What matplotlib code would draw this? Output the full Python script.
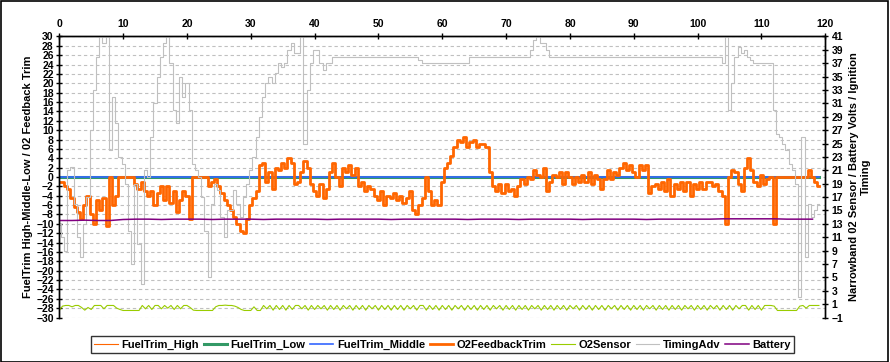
import numpy as np
import matplotlib
matplotlib.use("Agg")
import matplotlib.pyplot as plt
from matplotlib.patches import Rectangle

plt.rcParams['font.family'] = ['Liberation Sans', 'DejaVu Sans']
plt.rcParams['font.weight'] = 'bold'

# time step of the logged samples (seconds)
step = 0.5

# O2FeedbackTrim, left axis (%)
o2_trim = [
    -1, -1, -2, -2.5, -4.5, -6.5, -7.5, -9, -6, -4,
    -8, -10, -5, -7, -4.5, -10.5, 0, -6, -4, 0,
    0, 0, 0, 0, -1.5, -2.5, -1, -3, -4, -3,
    -6, -3.5, -2, -5, -2, -5.5, -3, -7.5, -5, -3,
    -4, -9, 0, 0, 0, 0, 0, -2, -1, -0.5,
    -2, -3.5, -5, -6, -7, -8.5, -10, -11.5, -12, -9,
    -6, -4.5, -3, 2.5, 3, -1, 1, -2.5, 2, 1.5,
    3, 2, 4, 3, -1.5, -1, 1, 3.5, 2, -1.5,
    -3, -4, -1.5, -4.5, -2.5, 1, 3, 0, -2, 2,
    1, 2.5, 0.5, 2, -2, -1, -3, -2, -2.5, -4,
    -5, -3, -6, -4, -4.5, -3.5, -5, -4, -5.5, -4.5,
    -3, -7, -8, -6, -4.5, 0, -3, -6, -5, -6,
    -1, 2, 3, 4.5, 6.5, 8, 7.5, 8.5, 6.5, 7.5,
    8, 6.5, 7, 7, 6.5, 1, -2, -3, -1.5, -3.5,
    -1.5, -3, -2.5, -4, -2, -0.5, -1.5, 0, -0.5, 1.5,
    0.5, 0, 2, -3, -1, 0.5, 0, 1, -1.5, 1,
    0, -1.5, 0, -1, 0.5, -1, 1, -1.5, 0.5, -0.5,
    -2.5, -0.5, 1.5, -0.5, 1, 0.5, 2, 3, 1.5, 2.5,
    1, 0, 2.5, 1.5, 2.5, -3.5, -2, -1.5, -2.5, -1,
    -3, -0.5, -4, -1.5, -2.5, -1, -3, -1, -4, -1.5,
    -2.5, -1, -2.5, -1, -1, -2, -1.5, -3, -4, -10,
    0, 1.5, 1, -1.5, -3, 2, 4, 1.5, -1, -2,
    0.5, -1.5, -0.5, 0, -10, 0, 0, 0, 0, 0,
    0, 0, 0, 0, 0, 1.5, 0, -1, -2,
]

# TimingAdv, right axis (degrees)
timing_adv = [
    13, 11, 9, 21, 21.5, 16, 11, 8, 13, 17,
    27, 33, 38, 41, 40, 41, 24, 32, 28, 23,
    22, 19, 12, 7, 19, 10, 4, 21, 20, 26,
    31, 35, 38, 40, 41, 37, 30, 28, 35, 32,
    34, 30, 22, 21, 20, 17, 12, 5, 16, 19,
    18, 14, 11, 15, 15, 18, 16, 14, 17, 19,
    21, 23, 26, 29, 32, 34, 35, 34, 35.5, 37,
    36.5, 37, 39, 40, 38.5, 38.5, 41, 25, 33, 37,
    39, 39, 37, 36, 37, 37, 38, 38, 38, 38,
    38, 38, 38, 38, 38, 38, 38, 38, 38, 38,
    38, 38, 38, 38, 38, 38, 38, 38, 38, 38,
    38, 38, 38, 37.5, 37, 37, 37, 37, 37, 37,
    37, 37, 37, 37, 37, 37, 37, 37, 37, 38,
    38, 38, 38, 38, 38, 38, 38, 38, 38, 38,
    38, 38, 38, 38, 38, 38, 38, 38, 39, 40.5,
    41, 40, 40, 39, 38, 38, 38, 38, 38, 38,
    38, 38, 38, 38, 38, 38, 38, 38, 38, 38,
    38, 38, 38, 38, 38, 38, 38, 38, 38, 38,
    38, 38, 38, 38, 38, 38, 38, 38, 38, 38,
    38, 38, 38, 38, 38, 38, 38, 38, 38, 38,
    38, 38, 38, 38, 38, 38, 38, 38, 37, 41,
    30, 34, 38, 39.5, 38.5, 39, 38, 37.5, 37, 37,
    37, 37, 37, 37, 30, 26.5, 26, 25, 24, 22,
    21, 19, 2, 26, 8, 16, 14, 15, 16,
]

# O2Sensor, right axis (volts)
o2_sensor = [
    0.05, 0.7, 0.8, 0.8, 0.6, 0.8, 0.8, 0.5, 0.1, 0.5,
    0.2, 0.8, 0.8, 0.8, 0.3, 0.8, 0.8, 0.8, 0.4, 0.2,
    0.05, 0.05, 0.05, 0.05, 0.05, 0.05, 0.8, 0.3, 0.8, 0.2,
    0.8, 0.8, 0.3, 0.8, 0.4, 0.8, 0.2, 0.8, 0.3, 0.8,
    0.8, 0.5, 0.1, 0.05, 0.05, 0.05, 0.05, 0.05, 0.05, 0.6,
    0.8, 0.8, 0.85, 0.8, 0.8, 0.7, 0.5, 0.2, 0.05, 0.05,
    0.05, 0.6, 0.05, 0.05, 0.8, 0.3, 0.8, 0.1, 0.8, 0.2,
    0.8, 0.1, 0.8, 0.2, 0.8, 0.8, 0.3, 0.8, 0.1, 0.8,
    0.2, 0.8, 0.3, 0.8, 0.1, 0.8, 0.2, 0.8, 0.1, 0.8,
    0.3, 0.8, 0.1, 0.8, 0.2, 0.8, 0.1, 0.8, 0.3, 0.8,
    0.1, 0.8, 0.2, 0.8, 0.1, 0.8, 0.2, 0.8, 0.1, 0.8,
    0.3, 0.8, 0.1, 0.8, 0.8, 0.1, 0.8, 0.2, 0.8, 0.1,
    0.8, 0.2, 0.8, 0.1, 0.8, 0.3, 0.8, 0.1, 0.8, 0.2,
    0.8, 0.1, 0.8, 0.2, 0.8, 0.1, 0.8, 0.3, 0.8, 0.1,
    0.8, 0.2, 0.8, 0.1, 0.8, 0.2, 0.8, 0.1, 0.8, 0.3,
    0.8, 0.1, 0.8, 0.2, 0.8, 0.1, 0.8, 0.2, 0.8, 0.1,
    0.8, 0.3, 0.8, 0.1, 0.8, 0.2, 0.8, 0.1, 0.8, 0.2,
    0.8, 0.1, 0.8, 0.3, 0.8, 0.1, 0.8, 0.2, 0.8, 0.1,
    0.8, 0.2, 0.8, 0.1, 0.8, 0.3, 0.8, 0.1, 0.8, 0.2,
    0.8, 0.1, 0.8, 0.2, 0.8, 0.1, 0.8, 0.3, 0.8, 0.1,
    0.8, 0.2, 0.8, 0.1, 0.8, 0.3, 0.8, 0.1, 0.8, 0.2,
    0.8, 0.1, 0.8, 0.3, 0.8, 0.8, 0.1, 0.8, 0.2, 0.8,
    0.1, 0.8, 0.8, 0.8, 0.7, 0.05, 0.05, 0.05, 0.05, 0.05,
    0.05, 0.05, 0.7, 0.8, 0.4, 0.8, 0.8, 0.8, 0.8,
]

# Battery, right axis (volts), one reading every 2 s
batt_step = 2
battery = [
    13.5, 13.5, 13.55, 13.5, 13.5, 13.65, 13.7, 13.7, 13.65, 13.7,
    13.7, 13.7, 13.65, 13.7, 13.7, 13.7, 13.65, 13.7, 13.7, 13.7,
    13.7, 13.65, 13.7, 13.7, 13.7, 13.7, 13.65, 13.7, 13.7, 13.7,
    13.7, 13.7, 13.65, 13.7, 13.7, 13.7, 13.65, 13.7, 13.7, 13.7,
    13.7, 13.65, 13.7, 13.7, 13.7, 13.7, 13.65, 13.7, 13.7, 13.7,
    13.7, 13.7, 13.75, 13.75, 13.75, 13.75, 13.75, 13.7, 13.7, 13.7,
]

# the three fuel trims stay at zero for the whole log
fuel_trim_high = [0, 0]
fuel_trim_low = [0, 0]
fuel_trim_middle = [0, 0]
trim_t = [0, 119]

t = np.arange(len(o2_trim)) * step
t_batt = np.arange(len(battery)) * batt_step

fig = plt.figure(figsize=(8.9, 3.62), dpi=100)
ax = fig.add_axes([0.0666, 0.1229, 0.8607, 0.7763])
ax2 = ax.twinx()

ax.plot(trim_t, fuel_trim_high, color='#ff6600', lw=0.8, label='FuelTrim_High')
ax.plot(trim_t, fuel_trim_low, color='#339966', lw=2.2, label='FuelTrim_Low')
ax.plot(trim_t, fuel_trim_middle, color='#3366ff', lw=1.2, label='FuelTrim_Middle')
ax.plot(t, o2_trim, color='#ff6600', lw=2.0, drawstyle='steps-mid', label='O2FeedbackTrim')

ax2.plot(t, o2_sensor, color='#99cc00', lw=0.8, label='O2Sensor')
ax2.plot(t, timing_adv, color='#c0c0c0', lw=0.8, drawstyle='steps-mid', label='TimingAdv')
ax2.plot(t_batt, battery, color='#800080', lw=1.1, label='Battery')

ax.set_xlim(0, 120)
ax.set_ylim(-30, 30)
ax2.set_ylim(-1, 41)
ax.set_xticks(range(0, 121, 10))
ax.set_yticks(range(-30, 31, 2))
ax2.set_yticks(range(-1, 42, 2))

ax.xaxis.tick_top()
ax.yaxis.grid(True, color='#c0c0c0', linestyle=(0, (3, 2.5)), lw=0.8)
ax.set_axisbelow(True)
for a in (ax, ax2):
    a.spines['bottom'].set_visible(False)
    for s in ('top', 'left', 'right'):
        a.spines[s].set_linewidth(1.0)
ax.tick_params(axis='y', direction='inout', length=5, width=1, labelsize=7.5, pad=1.5)
ax2.tick_params(axis='y', direction='inout', length=5, width=1, labelsize=7.5, pad=2)
ax.tick_params(axis='x', direction='inout', length=5, width=1, labelsize=7.5, pad=3)

ax.set_ylabel('FuelTrim High-Middle-Low / 02 Feedback Trim', fontsize=8, fontweight='bold', labelpad=2)
ax2.set_ylabel('Narrowband 02 Sensor / Battery Volts / Ignition\nTiming', fontsize=8,
               fontweight='bold', labelpad=4, multialignment='center')

handles = ax.get_lines() + ax2.get_lines()
fig.legend(handles, [h.get_label() for h in handles], loc='center', bbox_to_anchor=(0.497, 0.048),
           ncol=7, frameon=True, fancybox=False, edgecolor='black',
           handlelength=2.1, handletextpad=0.3, columnspacing=0.45, borderpad=0.3,
           prop={'weight': 'bold', 'size': 8})
fig.legends[0].get_frame().set_linewidth(1.0)

fig.patches.append(Rectangle((0.001, 0.001), 0.997, 0.996, transform=fig.transFigure,
                             fill=False, edgecolor='black', lw=1.2))

fig.savefig('out.png', dpi=100)
